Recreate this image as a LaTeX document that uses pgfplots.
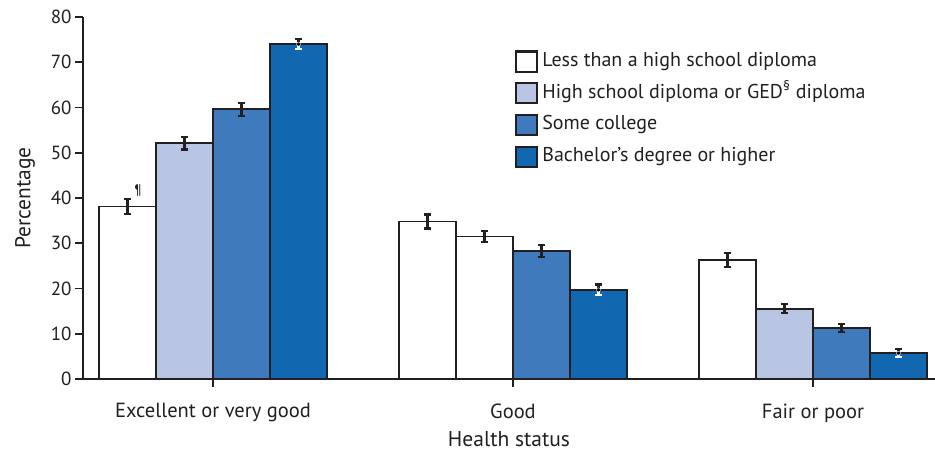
\documentclass[border=0pt]{standalone}
\usepackage{pgfplots}
\pgfplotsset{compat=1.18}
\usepackage{fontspec}
\setmainfont{PT Sans}

\definecolor{edge}{HTML}{231F20}
\definecolor{cLess}{HTML}{FFFFFF}
\definecolor{cHigh}{HTML}{B8C6E4}
\definecolor{cSome}{HTML}{3F7ABD}
\definecolor{cBach}{HTML}{1167B0}

\pgfplotsset{
  edubar/.style={ybar, bar width=0.19, bar shift=0pt, draw=edge, line width=1.8pt,
    fill=#1, forget plot,
    error bars/y dir=both, error bars/y explicit,
    error bars/error bar style={draw=edge, line width=2.2pt},
    error bars/error mark options={draw=edge, line width=2.2pt, mark size=3.6pt, rotate=90}},
}

\begin{document}
\begin{tikzpicture}
\path[use as bounding box] (-83pt,-73pt) rectangle (852pt,379pt);
\begin{axis}[
    scale only axis,
    width=852pt, height=362pt,
    at={(0,0)}, anchor=south west,
    xmin=-0.4333, xmax=2.4067,
    ymin=0, ymax=80,
    axis x line=bottom, axis y line=left,
    axis line style={-, draw=edge, line width=1.8pt},
    every tick/.style={draw=edge, line width=1.6pt},
    tick align=outside,
    major tick length=8pt,
    xtick={0,1,2},
    xticklabels={Excellent or very good, Good, Fair or poor},
    ytick={0,10,...,80},
    /pgf/number format/assume math mode=true,
    ticklabel style={font=\fontsize{19}{22}\selectfont, text=edge},
    xticklabel style={font=\fontsize{20.5}{24}\selectfont, yshift=-13pt},
    xlabel={Health status}, ylabel={Percentage},
    label style={font=\fontsize{21.5}{25}\selectfont, text=edge},
    xlabel style={yshift=-4.5pt, inner sep=1pt},
    ylabel style={yshift=9pt},
    legend image code/.code={\draw[#1] (0pt,-10pt) rectangle (21pt,10pt);},
    legend style={draw=none, fill=none, at={(0.507,0.908)}, anchor=north west,
      inner sep=0pt, row sep=9.5pt, font=\fontsize{20}{24}\selectfont,
      text=edge, nodes={inner xsep=4pt, inner ysep=0pt, text height=15pt, text depth=5pt}},
    legend cell align=left,
]
% Less than a high school diploma
\addplot[edubar=cLess] coordinates {
  (-0.285,38.1) +- (0,1.6)
  (0.715,34.8) +- (0,1.55)
  (1.715,26.3) +- (0,1.5)
};
% High school diploma or GED
\addplot[edubar=cHigh] coordinates {
  (-0.095,52.1) +- (0,1.4)
  (1.905,15.5) +- (0,1.0)
};
\addplot[edubar=cLess] coordinates {
  (0.905,31.5) +- (0,1.2)
};
% Some college
\addplot[edubar=cSome] coordinates {
  (0.095,59.6) +- (0,1.4)
  (1.095,28.3) +- (0,1.35)
  (2.095,11.2) +- (0,0.9)
};
% Bachelor's degree or higher: upper half dark, lower half white
\addplot[edubar=cBach, error bars/y dir=plus] coordinates {
  (0.285,74.0) +- (0,1.1)
  (1.285,19.7) +- (0,1.2)
  (2.285,5.7) +- (0,0.9)
};
\addplot[only marks, mark=none, draw=white, forget plot,
    error bars/y dir=minus, error bars/y explicit,
    error bars/error bar style={draw=white, line width=2.2pt},
    error bars/error mark options={draw=white, line width=2.2pt, mark size=3.6pt, rotate=90}]
  coordinates {
  (0.285,74.0) +- (0,1.1)
  (1.285,19.7) +- (0,1.2)
  (2.285,5.7) +- (0,0.9)
};
\node[font=\fontsize{14}{16}\selectfont, text=edge, anchor=south west, inner sep=0pt]
  at (axis cs:-0.262,40.3) {¶};

\addlegendimage{draw=edge, line width=2.2pt, fill=cLess}
\addlegendentry{Less than a high school diploma}
\addlegendimage{draw=edge, line width=2.2pt, fill=cHigh}
\addlegendentry{High school diploma or GED\textsuperscript{\S} diploma}
\addlegendimage{draw=edge, line width=2.2pt, fill=cSome}
\addlegendentry{Some college}
\addlegendimage{draw=edge, line width=2.2pt, fill=cBach}
\addlegendentry{Bachelor’s degree or higher}
\end{axis}
\end{tikzpicture}
\end{document}
